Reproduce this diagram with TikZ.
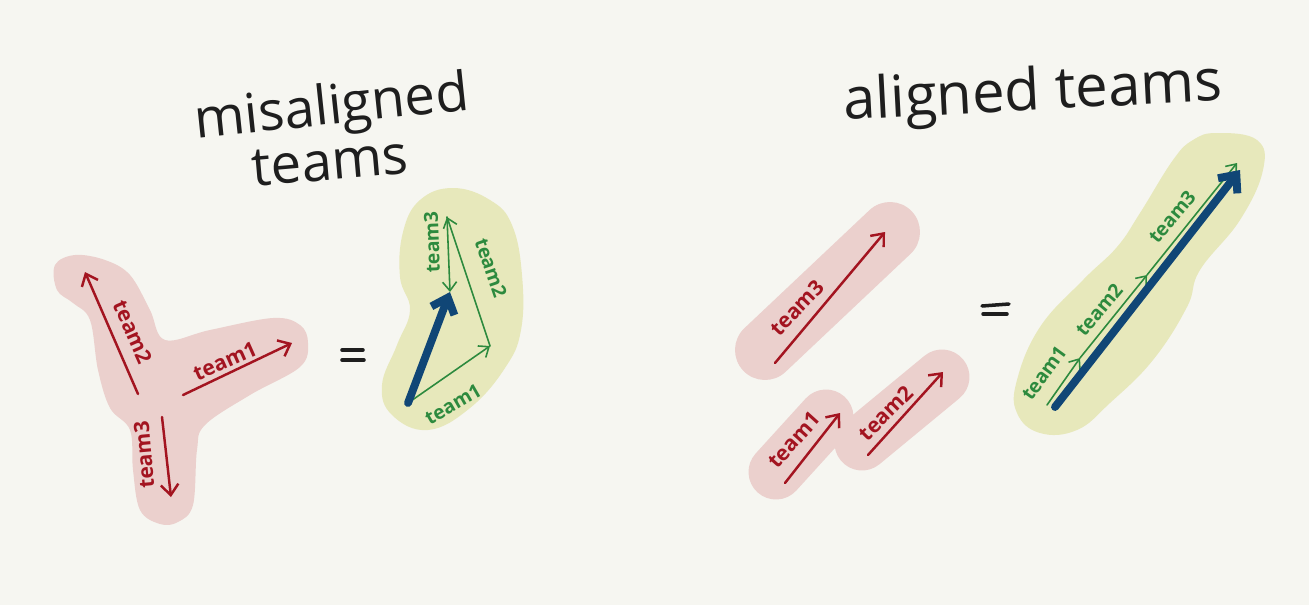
\documentclass[tikz,border=0pt]{standalone}
\usepackage{fontspec}
\setmainfont{Open Sans}
\usepackage{tikz}
\usetikzlibrary{arrows.meta}

\definecolor{paper}{RGB}{246,246,241}
\definecolor{blobred}{RGB}{235,208,205}
\definecolor{blobgreen}{RGB}{231,232,187}
\definecolor{inkred}{RGB}{163,20,32}
\definecolor{inkgreen}{RGB}{45,138,62}
\definecolor{inkblue}{RGB}{16,70,118}
\definecolor{ink}{RGB}{30,30,30}

\tikzset{
 redblob/.style={blobred, line cap=round, line join=round, line width=1.2cm},
 redvec/.style={inkred, line width=1.4pt, line cap=round, -{Straight Barb[length=6pt,width=10pt]}},
 greenvec/.style={inkgreen, line width=0.9pt, line cap=round, -{Straight Barb[length=5pt,width=8pt]}},
 sumvec/.style={inkblue, line width=4.5pt, line cap=round, -{Straight Barb[length=8pt,width=14pt]}},
 redlabel/.style={inkred, inner sep=0pt, font=\bfseries\fontsize{12}{12}\selectfont},
 greenlabel/.style={inkgreen, inner sep=0pt, font=\bfseries\fontsize{11}{11}\selectfont},
 title/.style={ink, inner sep=0pt, font=\fontsize{31}{34}\selectfont},
 eqsign/.style={ink, line width=2pt, line cap=round}
}

\begin{document}
\begin{tikzpicture}[x=0.02cm, y=-0.02cm]
\useasboundingbox (0,0) rectangle (1309,605);
\fill[paper] (0,0) rectangle (1309,605);

% blobs
\fill[blobred] plot[smooth cycle, tension=0.6] coordinates {(55,265) (75,255) (105,260) (130,275) (150,310) (165,340) (210,330) (273,318) (300,325) (308,343) (300,367) (250,395) (205,425) (197,450) (193,505) (178,522) (160,524) (140,510) (133,470) (130,430) (110,408) (98,370) (90,320) (73,303) (57,290)};
\draw[redblob] (765,350)--(890,232);
\draw[redblob, line width=1.1cm] (862,443)--(942,377);
\draw[redblob, line width=1.1cm] (776,472)--(826,417);

\fill[blobgreen] plot[smooth cycle, tension=0.7] coordinates {(453,188) (490,200) (512,225) (522,275) (521,330) (505,368) (470,408) (428,430) (392,415) (382,385) (397,345) (410,310) (400,277) (403,232) (420,200)};
\fill[blobgreen] plot[smooth cycle, tension=0.7] coordinates {(1217,133) (1257,140) (1263,170) (1240,220) (1200,270) (1187,307) (1153,360) (1110,403) (1077,430) (1040,433) (1017,413) (1017,380) (1040,327) (1083,280) (1117,247) (1140,213) (1173,160) (1193,140)};

% titles
\node[title, rotate=6] (mis) at (332,110) {misaligned};
\node[title, rotate=5] (misteams) at (330,162) {teams};
\node[title, rotate=3, font=\fontsize{33}{36}\selectfont] (ali) at (1033,95) {aligned teams};

% misaligned teams
\coordinate (m1a) at (183,395);
\coordinate (m1b) at (292,343);
\coordinate (m2a) at (138,394);
\coordinate (m2b) at (85,272);
\coordinate (m3a) at (162,417);
\coordinate (m3b) at (171,497);
\draw[redvec] (m1a) -- (m1b);
\draw[redvec] (m2a) -- (m2b);
\draw[redvec] (m3a) -- (m3b);
\node[redlabel, rotate=24] (lm1) at (225,361) {team1};
\node[redlabel, rotate=-66] (lm2) at (133,332) {team2};
\node[redlabel, rotate=95] (lm3) at (144,455) {team3};

\draw[eqsign] (342,350)--(363,350);
\draw[eqsign] (342,360)--(364,360);

\coordinate (s0) at (408,403);
\coordinate (s1) at (490,346);
\coordinate (s2) at (447,217);
\coordinate (s3) at (450,292);
\draw[greenvec] (s0) -- (s1);
\draw[greenvec] (s1) -- (s2);
\draw[greenvec] (s2) -- (s3);
\draw[sumvec] (s0) -- (s3);
\node[greenlabel, rotate=30] (ls1) at (453,404) {team1};
\node[greenlabel, rotate=-71] (ls2) at (491,268) {team2};
\node[greenlabel, rotate=92] (ls3) at (432,242) {team3};

% aligned teams
\coordinate (a1a) at (785,483);
\coordinate (a1b) at (840,413);
\coordinate (a2a) at (868,455);
\coordinate (a2b) at (943,372);
\coordinate (a3a) at (775,363);
\coordinate (a3b) at (885,232);
\draw[redvec] (a1a) -- (a1b);
\draw[redvec] (a2a) -- (a2b);
\draw[redvec] (a3a) -- (a3b);
\node[redlabel, rotate=48] (la1) at (794,440) {team1};
\node[redlabel, rotate=45] (la2) at (886,413) {team2};
\node[redlabel, rotate=46] (la3) at (797,308) {team3};

\draw[eqsign] (982,306)--(1009,304);
\draw[eqsign] (983,314)--(1007,314);

\coordinate (t0) at (1047,405);
\coordinate (t1) at (1080,358);
\coordinate (t2) at (1147,275);
\coordinate (t3) at (1237,163);
\coordinate (b0) at (1055,407);
\coordinate (b1) at (1240,170);
\draw[greenvec] (t0) -- (t1);
\draw[greenvec] (t1) -- (t2);
\draw[greenvec] (t2) -- (t3);
\draw[sumvec] (b0) -- (b1);
\node[greenlabel, rotate=54] (lt1) at (1044,373) {team1};
\node[greenlabel, rotate=50] (lt2) at (1099,310) {team2};
\node[greenlabel, rotate=50] (lt3) at (1172,217) {team3};

\end{tikzpicture}
\end{document}
